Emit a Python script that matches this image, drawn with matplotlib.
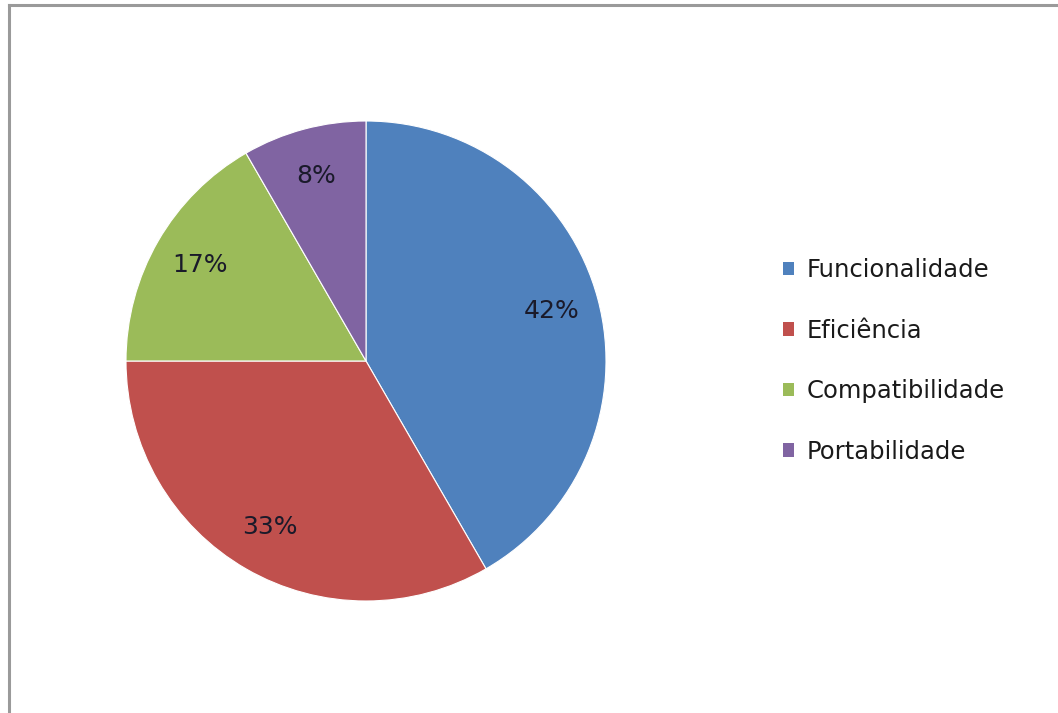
import matplotlib
matplotlib.use("Agg")
import matplotlib.pyplot as plt
from matplotlib.patches import Patch
from matplotlib.lines import Line2D

# requisitos avaliados
categorias = ['Funcionalidade', 'Eficiência', 'Compatibilidade', 'Portabilidade']
valores = [5, 4, 2, 1]
cores = ['#4F81BD', '#C0504D', '#9BBB59', '#8064A2']

plt.rcParams['font.family'] = ['DejaVu Sans']

fig = plt.figure(figsize=(10.58, 7.13), dpi=100)
fig.patch.set_facecolor('white')

# pie area, centred at (366, 361) px with 240 px radius
ax = fig.add_axes([126 / 1058, 1 - 601 / 713, 480 / 1058, 480 / 713])
wedges, texts, autotexts = ax.pie(
    valores, colors=cores, startangle=90, counterclock=False,
    autopct=lambda p: '%.0f%%' % p, pctdistance=0.8,
    wedgeprops=dict(edgecolor='white', linewidth=0.8),
    textprops=dict(fontsize=18, color='#1a1a2a'))
ax.set_xlim(-1, 1)
ax.set_ylim(-1, 1)
ax.set_aspect('auto')
ax.axis('off')

handles = [Patch(facecolor=c, edgecolor='none') for c in cores]
fig.legend(handles, categorias, loc='center left',
           bbox_to_anchor=(773 / 1058, 1 - 361 / 713),
           frameon=False, fontsize=17.5, handlelength=0.48, handleheight=0.48,
           handletextpad=0.5, labelspacing=1.5, borderaxespad=0,
           labelcolor='#1a1a1a')

# chart frame: only the top and left edges show
fig.add_artist(Line2D([9 / 1058, 1], [1 - 5 / 713, 1 - 5 / 713],
                      transform=fig.transFigure, color='#9a9a9a', linewidth=2.2))
fig.add_artist(Line2D([9 / 1058, 9 / 1058], [0, 1 - 5 / 713],
                      transform=fig.transFigure, color='#9a9a9a', linewidth=2.2))

fig.savefig('out.png', dpi=100, facecolor='white')
